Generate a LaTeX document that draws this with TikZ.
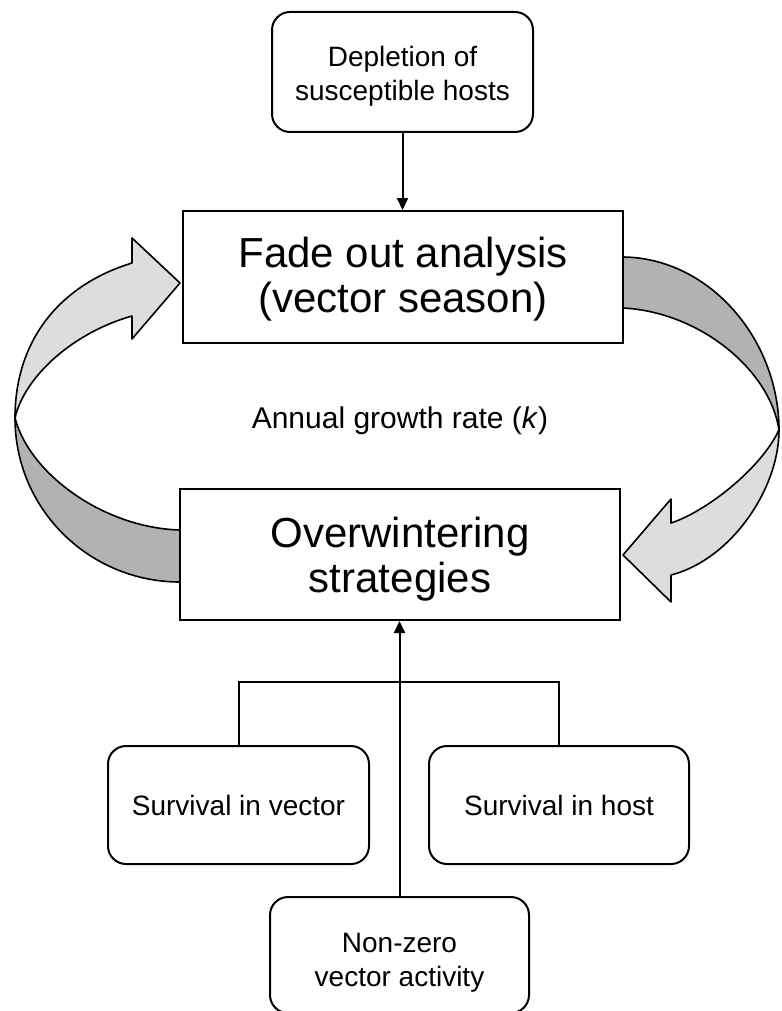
\documentclass[tikz,border=0pt]{standalone}
\usepackage{fontspec}
\setmainfont{Liberation Sans}
\usetikzlibrary{arrows.meta}
\definecolor{bandlight}{HTML}{DDDDDD}
\definecolor{banddark}{HTML}{B2B2B2}
% invisible strut that lifts the first text line inside a box
\newcommand{\toppad}[1]{\rule{0pt}{#1pt}}
\begin{document}
\begin{tikzpicture}[x=1pt,y=-1pt,
  box/.style={draw, line width=2pt, fill=white, inner sep=0pt, align=center},
  rbox/.style={box, rounded corners=18pt},
  big/.style={font=\fontsize{42}{45}\selectfont},
  small/.style={font=\fontsize{28}{34}\selectfont},
  link/.style={line width=2pt},
  arr/.style={link, -{Triangle[width=11pt,length=12pt]}},
  band/.style={draw, line width=1.6pt, line join=round},
  lightband/.style={band, fill=bandlight},
  darkband/.style={band, fill=banddark}
]
\useasboundingbox (0,0) rectangle (781,1011);

% left curved arrow: from the overwintering box back up to the fade-out box
\path[darkband] (15,418) .. controls (15,510) and (90,582) .. (180,582)
  -- (180,530) .. controls (105,528) and (30,475) .. (15,418) -- cycle;
\path[lightband] (180,283) -- (132,238) -- (132,263)
  .. controls (60,285) and (15,340) .. (15,418)
  .. controls (25,375) and (75,332) .. (132,316) -- (132,339) -- cycle;

% right curved arrow: from the fade-out box down to the overwintering box
\path[darkband] (623,257) .. controls (710,258) and (779,340) .. (779,430)
  .. controls (770,370) and (700,312) .. (623,308) -- cycle;
\path[lightband] (779,430) .. controls (779,490) and (730,560) .. (671,575)
  -- (671,602) -- (623,555) -- (671,499) -- (671,523)
  .. controls (705,512) and (760,470) .. (779,430) -- cycle;

% boxes
\node[rbox, small, minimum width=261pt, minimum height=120pt] (dep) at (402.5,72)
  {\toppad{28}Depletion of\\susceptible hosts};
\node[box, big, minimum width=440pt, minimum height=132pt] (fade) at (403,277)
  {\toppad{34}Fade out analysis\\(vector season)};
\node[font=\fontsize{30}{36}\selectfont, anchor=base] (rate) at (400,428)
  {Annual growth rate (\textit{k})};
\node[box, big, minimum width=440pt, minimum height=131pt] (over) at (400,554.5)
  {\toppad{39}Overwintering\\strategies};
\node[rbox, small, minimum width=261pt, minimum height=118pt] (sv) at (238.5,805)
  {Survival in vector};
\node[rbox, small, minimum width=260pt, minimum height=118pt] (sh) at (559,805)
  {Survival in host};
\node[rbox, small, minimum width=259pt, minimum height=116pt] (nz) at (399.5,955)
  {\toppad{35}Non-zero\\vector activity};

% connectors
\draw[arr] (dep.south) -- (dep.south |- fade.north);
\draw[link] (sv.north) -- ++(0,-63) -| (sh.north);
\draw[arr] (nz.north) -- (nz.north |- over.south);
\end{tikzpicture}
\end{document}
